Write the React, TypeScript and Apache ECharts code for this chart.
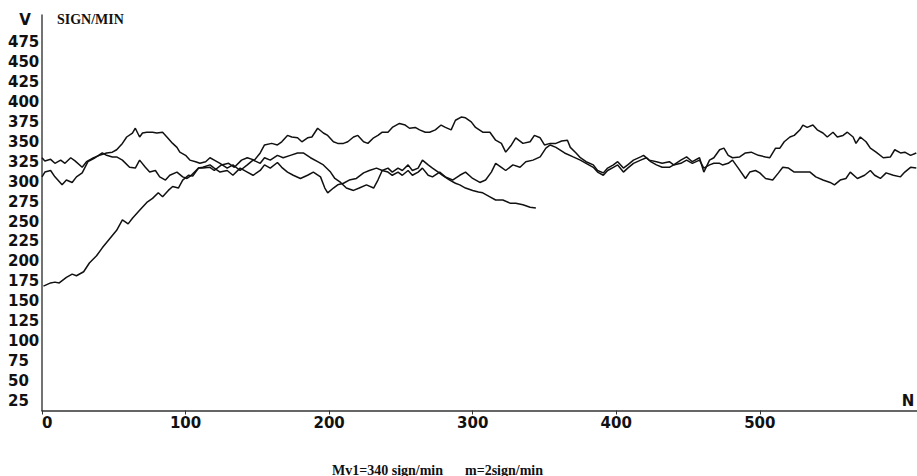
import React, { useEffect, useRef } from "react";
import * as echarts from "echarts";

// N (sample index) and V (sign/min) pairs
const seriesA: [number, number][] = [
  [1, 169], [6, 173], [9, 174], [12, 173], [17, 180], [21, 184], [24, 182], [29, 187], [33, 198], [38, 207],
  [42, 217], [47, 228], [52, 239], [56, 252], [60, 247], [63, 254], [68, 264], [73, 274], [77, 279], [81, 286],
  [84, 281], [88, 289], [91, 294], [95, 292], [98, 302], [102, 308], [105, 307], [109, 317], [112, 317], [117, 318],
  [120, 314], [125, 321], [130, 323], [134, 318], [139, 327], [143, 330], [148, 327], [152, 336], [155, 346], [160, 348],
  [164, 346], [167, 350], [171, 358], [174, 356], [178, 355], [181, 350], [185, 355], [188, 356], [192, 367], [196, 361],
  [199, 358], [203, 350], [206, 348], [210, 348], [213, 350], [217, 356], [220, 358], [224, 350], [227, 348], [231, 355],
  [234, 358], [237, 362], [241, 362], [244, 368], [249, 373], [253, 371], [256, 367], [260, 368], [263, 365], [267, 362],
  [270, 362], [274, 365], [278, 371], [281, 368], [285, 365], [288, 377], [292, 381], [295, 380], [299, 375], [302, 368],
  [307, 362], [312, 362], [316, 352], [320, 348], [323, 337], [327, 346], [330, 355], [335, 348], [340, 350], [343, 358],
  [347, 355], [350, 346], [354, 348], [358, 348], [362, 351], [366, 352], [368, 343], [372, 336], [375, 330], [379, 325],
  [384, 321], [387, 314], [391, 311], [394, 317], [398, 321], [401, 325], [405, 317], [408, 321], [412, 327], [417, 331],
  [419, 333], [423, 327], [428, 325], [432, 323], [437, 325], [440, 321], [445, 327], [449, 331], [453, 325], [458, 330],
  [461, 312], [465, 327], [468, 330], [472, 340], [475, 342], [478, 333], [481, 330], [486, 331], [490, 336], [494, 337],
  [499, 333], [504, 331], [507, 330], [511, 342], [514, 342], [517, 350], [521, 356], [524, 358], [528, 365], [530, 371],
  [533, 368], [537, 371], [540, 365], [544, 361], [547, 356], [551, 362], [554, 356], [558, 358], [561, 362], [565, 356],
  [567, 348], [570, 356], [574, 350], [577, 342], [581, 337], [586, 330], [591, 331], [594, 340], [598, 336], [601, 337],
  [605, 333], [609, 336],
];

const seriesB: [number, number][] = [
  [0, 330], [2, 326], [6, 328], [9, 323], [13, 327], [16, 323], [20, 330], [23, 326], [28, 318], [31, 325],
  [36, 330], [40, 333], [45, 336], [49, 337], [52, 340], [56, 348], [59, 356], [63, 361], [65, 367], [68, 356],
  [70, 361], [73, 362], [77, 362], [80, 361], [84, 362], [87, 356], [91, 348], [94, 343], [96, 337], [100, 333],
  [103, 327], [107, 325], [110, 323], [114, 325], [117, 330], [120, 327], [124, 323], [129, 317], [133, 321], [138, 314],
  [143, 321], [147, 327], [152, 323], [155, 330], [159, 327], [164, 333], [168, 330], [173, 333], [178, 336], [182, 336],
  [187, 330], [192, 325], [196, 321], [201, 312], [204, 304], [208, 299], [212, 292], [217, 289], [221, 292], [226, 296],
  [231, 292], [234, 302], [237, 314], [241, 317], [244, 312], [248, 317], [251, 314], [255, 321], [258, 314], [262, 317],
  [265, 327], [269, 321], [272, 317], [276, 312], [279, 308], [284, 302], [288, 298], [291, 296], [295, 292], [300, 289],
  [304, 287], [307, 286], [312, 281], [316, 277], [321, 277], [326, 273], [330, 273], [335, 271], [340, 268], [344, 267],
];

const seriesC: [number, number][] = [
  [0, 306], [2, 312], [6, 314], [9, 306], [14, 296], [17, 302], [21, 299], [24, 306], [28, 311], [32, 325],
  [37, 330], [42, 336], [45, 333], [49, 331], [52, 331], [56, 327], [61, 318], [65, 317], [68, 327], [72, 318],
  [75, 312], [79, 314], [82, 306], [86, 302], [89, 308], [94, 312], [98, 306], [101, 304], [104, 308], [109, 317],
  [112, 318], [117, 321], [120, 317], [124, 312], [129, 314], [133, 308], [138, 317], [143, 312], [147, 308], [152, 314],
  [155, 321], [159, 317], [164, 324], [167, 318], [171, 312], [175, 308], [180, 304], [185, 308], [189, 312], [194, 306],
  [197, 292], [199, 286], [203, 292], [206, 296], [210, 298], [214, 302], [219, 304], [224, 311], [228, 314], [233, 317],
  [237, 314], [241, 312], [244, 308], [248, 312], [251, 308], [255, 314], [258, 308], [262, 312], [265, 317], [269, 308],
  [272, 306], [277, 312], [281, 306], [286, 302], [291, 308], [295, 312], [300, 304], [305, 299], [309, 302], [313, 312],
  [316, 323], [320, 318], [323, 314], [328, 321], [333, 318], [337, 325], [342, 327], [347, 331], [351, 342], [354, 346],
  [358, 343], [364, 336], [370, 331], [375, 327], [379, 323], [384, 318], [387, 312], [391, 308], [394, 314], [398, 318],
  [401, 321], [405, 312], [408, 317], [412, 323], [417, 327], [421, 330], [424, 325], [428, 321], [432, 318], [437, 318],
  [440, 321], [445, 323], [449, 327], [453, 323], [458, 327], [461, 317], [465, 321], [468, 323], [472, 323], [474, 321],
  [478, 323], [481, 327], [485, 317], [490, 304], [493, 312], [497, 314], [500, 311], [504, 304], [509, 302], [513, 311],
  [516, 318], [520, 317], [524, 312], [530, 312], [535, 312], [539, 306], [544, 302], [549, 299], [552, 296], [556, 302],
  [560, 304], [563, 312], [568, 304], [573, 308], [577, 314], [580, 308], [584, 304], [588, 311], [593, 308], [598, 306],
  [601, 312], [605, 318], [609, 317],
];

const xTickValues = [0, 100, 200, 300, 400, 500];
const yTickValues = [25, 50, 75, 100, 125, 150, 175, 200, 225, 250, 275, 300, 325, 350, 375, 400, 425, 450, 475];

const yAxisTitle = "V";
const unitTitle = "SIGN/MIN";
const xAxisTitle = "N";
const captionLeft = "Mv1=340 sign/min";
const captionRight = "m=2sign/min";

const LABEL_FONT = "'DejaVu Sans', sans-serif";
const SERIF_FONT = "'Liberation Serif', 'Times New Roman', serif";

export default function App() {
  const ref = useRef<HTMLDivElement>(null);

  useEffect(() => {
    if (!ref.current) return;
    const chart = echarts.init(ref.current, undefined, { renderer: "svg" });
    const lineSeries = [seriesA, seriesB, seriesC].map((d, i) => ({
      type: "line",
      name: "run" + (i + 1),
      data: d,
      showSymbol: false,
      symbol: "none",
      silent: true,
      lineStyle: { color: "#111", width: 1.5 },
    }));
    chart.setOption({
      animation: false,
      backgroundColor: "#ffffff",
      grid: { left: 42, right: 0, top: 15, bottom: 65.5 },
      xAxis: {
        type: "value",
        min: 0,
        max: 609.5,
        axisLine: { show: true, onZero: false, lineStyle: { color: "#333", width: 1.5 } },
        axisTick: { show: true, customValues: xTickValues, length: 4, lineStyle: { color: "#333", width: 1 } },
        axisLabel: {
          customValues: xTickValues,
          margin: 5,
          fontFamily: LABEL_FONT,
          fontWeight: "bold",
          fontSize: 15,
          color: "#111",
          alignMinLabel: "left",
        },
        splitLine: { show: false },
      },
      yAxis: {
        type: "value",
        min: 13,
        max: 509,
        axisLine: { show: true, onZero: false, lineStyle: { color: "#444", width: 1.5 } },
        axisTick: { show: false },
        axisLabel: {
          customValues: yTickValues,
          align: "left",
          margin: 34,
          fontFamily: LABEL_FONT,
          fontWeight: "bold",
          fontSize: 15,
          color: "#111",
        },
        splitLine: { show: false },
      },
      series: lineSeries,
      graphic: [
        {
          type: "text",
          x: 25,
          y: 20,
          style: {
            text: yAxisTitle,
            font: `bold 15px ${LABEL_FONT}`,
            fill: "#111",
            align: "center",
            verticalAlign: "middle",
          },
        },
        {
          type: "text",
          x: 57,
          y: 19.5,
          style: {
            text: unitTitle,
            font: `bold 14px ${SERIF_FONT}`,
            fill: "#111",
            align: "left",
            verticalAlign: "middle",
          },
        },
        {
          type: "text",
          x: 908,
          y: 401,
          style: {
            text: xAxisTitle,
            font: `bold 15px ${LABEL_FONT}`,
            fill: "#111",
            align: "center",
            verticalAlign: "middle",
          },
        },
        {
          type: "text",
          x: 332,
          y: 470,
          style: {
            text: captionLeft,
            font: `bold 14px ${SERIF_FONT}`,
            fill: "#111",
            align: "left",
            verticalAlign: "middle",
          },
        },
        {
          type: "text",
          x: 465,
          y: 470,
          style: {
            text: captionRight,
            font: `bold 14px ${SERIF_FONT}`,
            fill: "#111",
            align: "left",
            verticalAlign: "middle",
          },
        },
      ],
    });
    return () => chart.dispose();
  }, []);

  return (
    <div
      ref={ref}
      style={{ position: "fixed", left: 0, top: 0, width: 917, height: 476, background: "#fff" }}
    />
  );
}
